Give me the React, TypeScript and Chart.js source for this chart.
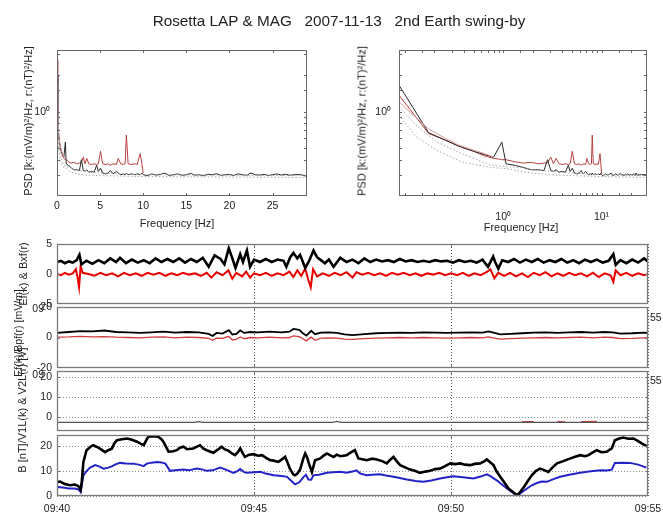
import React, { useEffect, useRef } from 'react';
import { Chart, registerables } from 'chart.js';
Chart.register(...registerables);

const W = 663;
const H = 514;
const CW = 720; // canvas is larger than the page; the extra part is hidden
const CH = 560;
const YAXW = 56;
const XAXH = 40;
const FONT = "'Liberation Sans', Arial, Helvetica, sans-serif";

// ---------- PSD data: [frequency Hz, PSD] ----------
const psdBlack: [number, number][] = [
  [0, 2.0], [0.087, 1.67], [0.175, 0.67], [0.26, 0.58], [0.35, 0.52], [0.5, 0.47], [0.65, 0.44], [0.8, 0.42],
  [0.9, 0.5], [0.97, 0.56], [1.07, 0.37], [1.3, 0.36], [1.6, 0.345], [1.94, 0.33], [2.3, 0.33], [2.6, 0.325],
  [2.83, 0.4], [3.05, 0.325], [3.25, 0.32], [3.45, 0.33], [3.7, 0.315], [4.0, 0.32], [4.3, 0.315], [4.6, 0.36],
  [4.8, 0.32], [5.05, 0.34], [5.3, 0.31], [5.6, 0.305], [5.9, 0.31], [6.2, 0.325], [6.5, 0.305], [6.9, 0.32],
  [7.1, 0.31], [7.4, 0.3], [7.7, 0.305], [7.9, 0.3], [8.05, 0.31], [8.25, 0.3], [8.6, 0.305], [9.0, 0.3],
  [9.3, 0.305], [9.65, 0.3], [9.85, 0.31], [10.0, 0.3], [10.5, 0.295], [11, 0.305], [11.5, 0.298], [12, 0.302],
  [12.5, 0.31], [13, 0.296], [13.5, 0.3], [14, 0.305], [14.5, 0.297], [15, 0.3], [15.5, 0.308], [16, 0.298],
  [16.5, 0.3], [17, 0.295], [17.5, 0.303], [18, 0.3], [18.5, 0.306], [19, 0.297], [19.5, 0.3], [20, 0.302],
  [20.5, 0.296], [21, 0.305], [21.5, 0.3], [22, 0.297], [22.5, 0.31], [23, 0.3], [23.5, 0.298], [24, 0.302],
  [24.5, 0.296], [25, 0.3], [25.5, 0.305], [26, 0.298], [26.5, 0.303], [27, 0.297], [27.5, 0.3], [28, 0.302],
  [28.5, 0.298], [29, 0.29],
];
const psdRed: [number, number][] = [
  [0, 2.7], [0.087, 1.38], [0.175, 0.66], [0.26, 0.58], [0.35, 0.52], [0.5, 0.47], [0.65, 0.43], [0.8, 0.41],
  [0.9, 0.405], [0.97, 0.4], [1.07, 0.4], [1.3, 0.385], [1.6, 0.375], [1.94, 0.38], [2.3, 0.37], [2.6, 0.375],
  [2.83, 0.38], [3.05, 0.42], [3.25, 0.37], [3.45, 0.41], [3.7, 0.37], [4.0, 0.365], [4.3, 0.37], [4.6, 0.365],
  [4.8, 0.37], [5.05, 0.47], [5.3, 0.37], [5.6, 0.365], [5.9, 0.37], [6.2, 0.36], [6.5, 0.37], [6.9, 0.365],
  [7.1, 0.41], [7.4, 0.37], [7.7, 0.365], [7.9, 0.37], [8.05, 0.64], [8.25, 0.37], [8.6, 0.365], [9.0, 0.37],
  [9.3, 0.365], [9.65, 0.45], [9.85, 0.37], [10.0, 0.31],
];
const psdRedPale: [number, number][] = [
  [0.087, 1.21], [0.175, 0.72], [0.26, 0.6], [0.35, 0.53], [0.5, 0.48], [0.65, 0.45], [0.8, 0.42],
];
const noiseA: [number, number][] = [
  [0.0874, 1.1], [0.13, 0.775], [0.21, 0.562], [0.38, 0.45], [0.75, 0.36], [1.1, 0.35], [1.5, 0.345],
  [2.0, 0.33], [3, 0.32], [5, 0.31], [10, 0.3], [29, 0.295],
];
const noiseB: [number, number][] = [
  [0.0874, 0.94], [0.13, 0.62], [0.21, 0.48], [0.38, 0.383], [0.75, 0.345], [1.1, 0.337], [1.5, 0.32],
  [2.0, 0.31], [3, 0.3], [5, 0.295], [10, 0.29], [29, 0.285],
];

// ---------- Time series: [minutes after 09:40, value] ----------
const timeTicks = ['09:40', '09:45', '09:50', '09:55'];
const vTicks = [0, 10, 20];

const eBlack: [number, number][] = [
  [0, 2.0], [0.1, 2.2], [0.2, 1.8], [0.3, 2.1], [0.4, 1.9], [0.5, 2.3], [0.57, 3.2], [0.62, 1.6], [0.75, 2.2],
  [0.9, 1.7], [1.05, 2.3], [1.2, 1.8], [1.35, 2.6], [1.5, 2.0], [1.6, 2.7], [1.75, 1.8], [1.9, 2.4], [2.05, 1.9],
  [2.2, 2.3], [2.35, 1.8], [2.5, 2.6], [2.65, 2.0], [2.8, 2.5], [2.95, 2.0], [3.1, 2.6], [3.25, 1.9], [3.4, 2.5],
  [3.55, 2.0], [3.7, 2.7], [3.85, 1.2], [4.0, 3.1], [4.15, 2.5], [4.25, 1.6], [4.36, 4.3], [4.45, 2.6], [4.53, 1.0],
  [4.65, 3.3], [4.72, 2.0], [4.82, 3.9], [4.9, 1.2], [5.0, 2.4], [5.15, 2.0], [5.3, 2.5], [5.45, 2.0], [5.6, 2.4],
  [5.75, 2.2], [5.82, 1.2], [5.92, 2.8], [6.0, 3.5], [6.1, 2.6], [6.17, 3.2], [6.3, 1.0], [6.4, 2.2], [6.51, 3.9],
  [6.6, 2.8], [6.68, 2.4], [6.8, 1.8], [6.9, 2.4], [7.02, 1.2], [7.19, 2.7], [7.35, 2.0], [7.5, 2.4], [7.65, 1.8],
  [7.8, 2.6], [7.95, 2.0], [8.1, 2.4], [8.25, 2.1], [8.4, 2.3], [8.55, 2.0], [8.7, 2.5], [8.85, 2.1], [9.0, 2.3],
  [9.15, 2.0], [9.3, 2.2], [9.45, 2.0], [9.6, 2.3], [9.75, 2.1], [9.9, 2.2], [10.05, 1.9], [10.2, 2.3], [10.35, 2.0],
  [10.5, 2.2], [10.65, 1.9], [10.8, 2.4], [10.94, 1.2], [11.07, 2.9], [11.12, 2.0], [11.2, 0.9], [11.3, 2.3],
  [11.45, 2.0], [11.6, 2.5], [11.75, 1.9], [11.9, 2.4], [12.05, 2.0], [12.2, 2.5], [12.35, 1.9], [12.5, 2.3],
  [12.65, 2.0], [12.8, 2.5], [12.95, 1.9], [13.1, 2.3], [13.25, 1.8], [13.4, 2.4], [13.55, 2.0], [13.7, 2.4],
  [13.85, 1.9], [14.0, 2.2], [14.12, 3.3], [14.18, 1.5], [14.3, 2.3], [14.45, 1.8], [14.6, 2.4], [14.75, 1.9],
  [14.9, 2.6], [15.0, 2.1],
];
const bxRed: [number, number][] = [
  [0, 0.0], [0.1, -0.2], [0.2, 0.2], [0.3, -0.1], [0.4, 0.1], [0.48, 0.8], [0.52, -0.5], [0.56, -2.2], [0.6, 1.3],
  [0.65, 0.2], [0.8, 0.0], [0.95, -0.3], [1.1, 0.2], [1.25, -0.2], [1.4, 0.1], [1.55, -0.4], [1.7, 0.2], [1.85, -0.2],
  [2.0, 0.1], [2.15, -0.3], [2.3, 0.2], [2.45, -0.1], [2.6, 0.2], [2.75, -0.3], [2.9, 0.1], [3.05, -0.2], [3.2, 0.2],
  [3.35, -0.1], [3.5, 0.1], [3.65, -0.3], [3.8, 0.2], [3.92, -0.6], [4.05, 0.3], [4.2, -0.2], [4.35, 0.6],
  [4.45, -0.8], [4.55, 0.2], [4.7, -0.4], [4.8, 0.4], [4.9, -0.6], [5.0, 0.1], [5.15, -0.2], [5.3, 0.2],
  [5.45, -0.3], [5.6, 0.1], [5.75, -0.2], [5.9, 0.4], [6.0, -0.5], [6.1, 0.6], [6.2, -0.3], [6.3, 0.9],
  [6.38, -1.0], [6.44, -2.2], [6.5, 0.8], [6.6, -0.4], [6.75, 0.1], [6.9, -0.3], [7.05, 0.2], [7.2, -0.2],
  [7.35, 0.3], [7.5, -0.6], [7.6, 0.3], [7.75, -0.1], [7.9, 0.2], [8.05, -0.2], [8.2, 0.1], [8.35, -0.3],
  [8.5, 0.2], [8.65, -0.1], [8.8, 0.2], [8.95, -0.2], [9.1, 0.1], [9.25, -0.3], [9.4, 0.1], [9.55, -0.1],
  [9.7, 0.2], [9.85, -0.2], [10.0, 0.1], [10.15, -0.2], [10.3, 0.2], [10.45, -0.3], [10.6, 0.1], [10.75, -0.2],
  [10.9, 0.3], [11.0, 0.8], [11.1, -0.7], [11.2, 0.2], [11.35, -0.3], [11.5, 0.2], [11.65, -0.4], [11.8, 0.1],
  [11.95, -0.5], [12.1, 0.2], [12.25, -0.2], [12.4, 0.3], [12.55, -0.4], [12.7, 0.1], [12.85, -0.3], [13.0, 0.2],
  [13.15, -0.2], [13.3, 0.1], [13.45, -0.4], [13.6, 0.2], [13.75, -0.5], [13.9, 0.1], [14.05, -0.2], [14.12, -1.3],
  [14.18, 0.6], [14.3, -0.2], [14.45, 0.2], [14.6, -0.3], [14.75, 0.1], [14.9, -0.2], [15.0, 0.0],
];
const ePBlack: [number, number][] = [
  [0, 3.0], [0.3, 3.6], [0.6, 4.2], [0.9, 4.0], [1.2, 4.6], [1.5, 3.6], [1.8, 3.4], [2.1, 3.0], [2.4, 3.4],
  [2.7, 3.9], [3.0, 3.2], [3.3, 3.6], [3.6, 3.4], [3.85, 2.4], [3.95, 1.0], [4.05, 3.0], [4.2, 2.6], [4.36, 4.8],
  [4.45, 2.0], [4.55, 2.4], [4.65, 4.6], [4.75, 3.0], [4.9, 3.6], [5.1, 3.4], [5.4, 3.8], [5.7, 3.4], [5.9, 3.8],
  [6.0, 5.6], [6.15, 5.0], [6.25, 2.6], [6.33, 1.2], [6.45, 4.4], [6.55, 2.2], [6.7, 3.2], [6.9, 3.4], [7.1, 3.0],
  [7.3, 2.0], [7.5, 1.6], [7.8, 2.2], [8.1, 2.8], [8.4, 3.0], [8.7, 3.2], [9.0, 3.0], [9.3, 3.4], [9.6, 3.2],
  [9.9, 3.0], [10.2, 3.2], [10.5, 3.4], [10.8, 3.2], [10.95, 4.0], [11.1, 3.0], [11.25, 2.0], [11.5, 2.4],
  [11.8, 2.8], [12.1, 3.2], [12.4, 3.4], [12.7, 3.0], [13.0, 3.4], [13.3, 3.6], [13.6, 3.2], [13.9, 3.6],
  [14.1, 3.4], [14.3, 2.6], [14.6, 2.8], [14.9, 3.2], [15, 3.0],
];
const ePRed: [number, number][] = [
  [0, 0.2], [0.3, 0.4], [0.6, 0.8], [0.9, 0.4], [1.2, 0.6], [1.5, 0.2], [1.8, 0.0], [2.1, -0.2], [2.4, 0.2],
  [2.7, 0.4], [3.0, -0.2], [3.3, 0.2], [3.6, 0.0], [3.85, -0.6], [3.95, -1.8], [4.05, -0.4], [4.2, -0.6], [4.36, 0.8],
  [4.45, -1.6], [4.55, -1.2], [4.65, 0.4], [4.75, -0.8], [4.9, 0.0], [5.1, -0.2], [5.4, 0.2], [5.7, -0.2], [5.9, 0.0],
  [6.0, 1.0], [6.15, 0.6], [6.25, -1.0], [6.33, -2.2], [6.45, 0.2], [6.55, -1.8], [6.7, -0.4], [6.9, -0.2],
  [7.1, -0.4], [7.3, -1.0], [7.5, -1.2], [7.8, -0.8], [8.1, -0.4], [8.4, -0.2], [8.7, 0.0], [9.0, -0.2], [9.3, 0.0],
  [9.6, -0.2], [9.9, -0.4], [10.2, -0.2], [10.5, 0.0], [10.8, -0.2], [10.95, 0.4], [11.1, -0.4], [11.25, -1.0],
  [11.5, -0.8], [11.8, -0.4], [12.1, -0.2], [12.4, 0.0], [12.7, -0.2], [13.0, 0.0], [13.3, 0.2], [13.6, -0.2],
  [13.9, 0.2], [14.1, 0.0], [14.3, -0.8], [14.6, -0.6], [14.9, -0.2], [15, -0.3],
];
const v1Black: [number, number][] = [
  [0, -2.7], [3.5, -2.7], [3.6, -2.3], [3.7, -2.7], [7.0, -2.7], [7.1, -2.2], [7.2, -2.7], [15, -2.7],
];
const v2Red: [number, number | null][] = [
  [11.8, -2.3], [12.1, -2.3], [12.11, null], [12.7, -2.2], [12.9, -2.4], [12.91, null], [13.3, -2.3], [13.7, -2.2],
];
const bBlack: [number, number][] = [
  [0, 5.6], [0.08, 5.8], [0.2, 4.8], [0.33, 4.3], [0.45, 4.6], [0.54, 4.0], [0.6, 2.5], [0.63, 6], [0.67, 13.7],
  [0.75, 18.4], [0.85, 19.8], [0.92, 20.4], [1.0, 19.8], [1.09, 19.0], [1.22, 17.6], [1.3, 18.4], [1.39, 19.0],
  [1.45, 21.0], [1.52, 22.4], [1.65, 22.8], [1.78, 23.1], [1.9, 22.6], [2.03, 21.8], [2.12, 21.0], [2.2, 20.4],
  [2.28, 22.8], [2.32, 23.8], [2.45, 24.0], [2.57, 23.8], [2.65, 22.8], [2.7, 21.8], [2.83, 17.8], [2.95, 18.0],
  [3.04, 18.4], [3.12, 19.4], [3.21, 19.8], [3.3, 18.8], [3.46, 19.1], [3.55, 19.8], [3.63, 20.4], [3.72, 19.0],
  [3.8, 18.4], [3.9, 17.8], [3.97, 17.4], [4.08, 18.6], [4.18, 19.8], [4.25, 18.8], [4.35, 18.2], [4.45, 17.0],
  [4.52, 16.4], [4.6, 17.8], [4.65, 19.1], [4.72, 17.0], [4.77, 15.7], [4.88, 16.6], [4.99, 16.8], [5.1, 16.2],
  [5.2, 16.4], [5.3, 15.4], [5.41, 14.4], [5.5, 14.2], [5.62, 13.7], [5.7, 14.6], [5.79, 15.7], [5.85, 13.5],
  [5.91, 11.0], [6.0, 8.6], [6.04, 8.3], [6.1, 9.0], [6.17, 10.6], [6.25, 15.0], [6.3, 17.1], [6.35, 15.5],
  [6.38, 13.7], [6.47, 9.6], [6.55, 14.4], [6.68, 15.1], [6.75, 16.0], [6.85, 17.1], [6.95, 16.2], [7.02, 15.7],
  [7.1, 16.6], [7.19, 16.0], [7.35, 16.4], [7.45, 17.4], [7.56, 18.4], [7.65, 15.1], [7.75, 14.8], [7.86, 14.4],
  [8.0, 15.0], [8.12, 14.7], [8.25, 14.0], [8.37, 13.1], [8.45, 14.5], [8.54, 15.7], [8.62, 14.0], [8.71, 12.4],
  [8.85, 11.4], [8.96, 10.6], [9.1, 10.0], [9.21, 9.3], [9.35, 9.8], [9.47, 10.1], [9.6, 10.8], [9.72, 11.0],
  [9.85, 12.0], [9.98, 13.1], [10.1, 12.8], [10.24, 13.1], [10.35, 12.6], [10.49, 12.4], [10.6, 12.9],
  [10.74, 13.1], [10.85, 14.0], [10.91, 14.7], [11.0, 13.5], [11.08, 12.4], [11.15, 10.0], [11.25, 7.7],
  [11.35, 5.5], [11.46, 3.0], [11.58, 1.5], [11.68, 0.3], [11.75, 1.5], [11.85, 3.6], [11.95, 6.0], [12.05, 8.3],
  [12.15, 10.0], [12.26, 11.0], [12.35, 10.5], [12.47, 9.7], [12.58, 11.5], [12.69, 13.1], [12.85, 14.0],
  [13.03, 15.1], [13.15, 15.8], [13.28, 16.4], [13.4, 16.0], [13.49, 16.4], [13.6, 17.5], [13.7, 18.4],
  [13.82, 17.6], [13.95, 17.8], [14.08, 19.1], [14.16, 22.4], [14.25, 23.0], [14.37, 23.5], [14.5, 23.0],
  [14.63, 23.1], [14.75, 22.0], [14.84, 21.1], [14.92, 20.4], [15.0, 19.8],
];
const bBlue: [number, number][] = [
  [0, 3.6], [0.15, 3.4], [0.3, 3.0], [0.45, 3.0], [0.55, 2.6], [0.6, 1.6], [0.63, 4.5], [0.67, 8.3], [0.75, 10.0],
  [0.84, 11.4], [0.97, 12.4], [1.08, 11.8], [1.18, 11.0], [1.3, 11.4], [1.39, 11.9], [1.5, 12.8], [1.6, 13.3],
  [1.75, 13.1], [1.94, 13.0], [2.1, 12.5], [2.2, 12.0], [2.28, 13.0], [2.4, 13.4], [2.54, 13.7], [2.65, 13.5],
  [2.75, 13.0], [2.87, 10.1], [3.0, 10.3], [3.21, 10.6], [3.35, 10.3], [3.55, 11.0], [3.7, 10.6], [3.8, 10.1],
  [3.95, 10.3], [4.14, 11.4], [4.3, 10.5], [4.48, 9.3], [4.58, 10.0], [4.65, 10.8], [4.75, 9.6], [4.82, 9.3],
  [5.0, 9.5], [5.16, 9.7], [5.3, 9.0], [5.5, 8.3], [5.7, 8.0], [5.84, 7.7], [5.95, 6.0], [6.04, 4.7], [6.15, 5.5],
  [6.26, 7.7], [6.32, 8.5], [6.38, 6.6], [6.45, 6.5], [6.51, 8.3], [6.65, 8.5], [6.85, 9.3], [7.0, 9.5],
  [7.19, 9.7], [7.35, 9.3], [7.5, 9.8], [7.6, 10.3], [7.7, 9.0], [7.86, 8.3], [8.0, 8.5], [8.2, 8.7], [8.35, 8.2],
  [8.54, 7.7], [8.7, 7.2], [8.88, 6.6], [9.1, 6.0], [9.3, 5.7], [9.5, 6.2], [9.72, 7.0], [9.9, 7.5], [10.06, 7.9],
  [10.3, 7.5], [10.57, 7.0], [10.75, 7.8], [10.91, 8.7], [11.0, 8.0], [11.16, 6.3], [11.3, 4.5], [11.42, 3.0],
  [11.55, 1.5], [11.68, 0.0], [11.8, 1.5], [11.93, 3.0], [12.05, 4.3], [12.18, 5.2], [12.3, 5.8], [12.43, 5.7],
  [12.6, 6.8], [12.77, 7.7], [13.0, 8.5], [13.28, 9.3], [13.5, 9.8], [13.79, 10.3], [13.95, 10.2], [14.08, 10.6],
  [14.16, 13.3], [14.35, 13.4], [14.54, 13.3], [14.75, 12.6], [14.96, 11.4],
];

// ---------- helpers ----------
const xy = (arr: [number, number | null][], positive = false) =>
  arr.filter(([x]) => !positive || x > 0).map(([x, y]) => ({ x, y }));

// layout padding such that the plot area lands exactly on [l, r] x [t, b]
const pad = (l: number, t: number, r: number, b: number) => ({
  left: l - YAXW, top: t, right: CW - r, bottom: CH - b - XAXH,
});

const isPow10 = (v: number) => v > 0 && Math.abs(Math.log10(v) - Math.round(Math.log10(v))) < 1e-6;
const SUP: Record<number, string> = { 0: '\u2070', 1: '\u00b9', 2: '\u00b2' };

const framePlugin = {
  id: 'frame',
  afterDraw(chart: any) {
    const { ctx, chartArea: a } = chart;
    const opts = chart.options.plugins.frame || {};
    ctx.save();
    ctx.strokeStyle = opts.color || '#666';
    ctx.lineWidth = 1;
    const tl = 3;
    const xs = chart.scales.x;
    const ys = chart.scales.y;
    ctx.beginPath();
    xs.ticks.forEach((t: any) => {
      const px = Math.round(xs.getPixelForValue(t.value)) + 0.5;
      if (px <= a.left + 1 || px >= a.right - 1) return;
      ctx.moveTo(px, a.bottom); ctx.lineTo(px, a.bottom - tl);
      ctx.moveTo(px, a.top); ctx.lineTo(px, a.top + tl);
    });
    ys.ticks.forEach((t: any) => {
      const py = Math.round(ys.getPixelForValue(t.value)) + 0.5;
      if (py <= a.top + 1 || py >= a.bottom - 1) return;
      ctx.moveTo(a.left, py); ctx.lineTo(a.left + tl, py);
      ctx.moveTo(a.right, py); ctx.lineTo(a.right - tl, py);
    });
    ctx.stroke();
    ctx.lineWidth = opts.width || 1;
    ctx.strokeRect(a.left + 0.5, a.top + 0.5, a.right - a.left - 1, a.bottom - a.top - 1);
    ctx.restore();
  },
};

const line = (data: any[], color: string, width: number, extra: any = {}) => ({
  data,
  borderColor: color,
  borderWidth: width,
  pointRadius: 0,
  tension: 0,
  fill: false,
  spanGaps: false,
  ...extra,
});

const tickFont = { family: FONT, size: 10.5 };
const fitY = (s: any) => { s.width = YAXW; };
const fitX = (s: any) => { s.height = XAXH; };

function baseOptions(padding: any, scales: any, frameColor = '#666', frameWidth = 1) {
  return {
    responsive: false,
    maintainAspectRatio: false,
    animation: false,
    events: [],
    layout: { padding },
    plugins: { legend: { display: false }, tooltip: { enabled: false }, frame: { color: frameColor, width: frameWidth } },
    scales,
  };
}

function psdConfig(logX: boolean, box: [number, number, number, number], xPad: number, yPad: number) {
  const datasets = [
    line(xy(noiseA, logX), '#a8a8a8', 1, { borderDash: [1.5, 2] }),
    line(xy(noiseB, logX), '#a8a8a8', 1, { borderDash: [1.5, 2] }),
    line(xy(psdRedPale, logX), '#d99a9a', 1),
    line(xy(psdBlack, logX), '#2a2a2a', 1),
    line(xy(psdRed, logX), '#b8413f', 1),
  ];
  const xScale = logX
    ? {
        type: 'logarithmic', min: 0.0874, max: 29,
        afterFit: fitX,
        grid: { display: false, drawTicks: false },
        border: { display: false },
        ticks: {
          autoSkip: false, maxRotation: 0, padding: xPad, font: tickFont, color: '#222',
          callback: (v: any) => (isPow10(Number(v)) && Number(v) >= 1 ? '10' + SUP[Math.round(Math.log10(Number(v)))] : ''),
        },
      }
    : {
        type: 'linear', min: 0, max: 29,
        afterFit: fitX,
        grid: { display: false, drawTicks: false },
        border: { display: false },
        ticks: { stepSize: 5, includeBounds: false, autoSkip: false, maxRotation: 0, padding: xPad, font: tickFont, color: '#222' },
      };
  return {
    type: 'line',
    data: { datasets },
    options: baseOptions(pad(...box), {
      x: xScale,
      y: {
        type: 'logarithmic', min: 0.2, max: 3.25,
        afterFit: fitY,
        grid: { display: false, drawTicks: false },
        border: { display: false },
        ticks: {
          autoSkip: false, padding: yPad, font: tickFont, color: '#222',
          callback: (v: any) => (Number(v) === 1 ? '10' + SUP[0] : ''),
        },
      },
    }),
    plugins: [framePlugin],
  };
}

function tsConfig(
  top: number, bottom: number, ymin: number, ymax: number, ystep: number,
  datasets: any[], showX: boolean, yGrid: boolean, fixedTicks?: number[],
) {
  const y: any = {
    type: 'linear', min: ymin, max: ymax,
    afterFit: fitY,
    grid: { display: yGrid, drawTicks: false, color: '#8a8a8a', lineWidth: 1 },
    border: { display: false, dash: [1, 2] },
    ticks: { stepSize: ystep, includeBounds: false, autoSkip: false, padding: 5, font: tickFont, color: '#222' },
  };
  if (fixedTicks) {
    y.afterBuildTicks = (s: any) => { s.ticks = fixedTicks.map((value) => ({ value })); };
  }
  return {
    type: 'line',
    data: { datasets },
    options: baseOptions(pad(57, top, 648, bottom), {
      x: {
        type: 'linear', min: 0, max: 15,
        afterFit: fitX,
        grid: { display: true, drawTicks: false, color: '#555', lineWidth: 1 },
        border: { display: false, dash: [1, 2] },
        ticks: {
          display: showX, stepSize: 5, includeBounds: false, autoSkip: false, maxRotation: 0, padding: 7,
          font: tickFont, color: '#222',
          callback: (v: any) => timeTicks[Math.round(Number(v) / 5)] ?? '',
        },
      },
      y,
    }, '#7a7a7a', 1.3),
    plugins: [framePlugin],
  };
}

const configs = [
  psdConfig(false, [57, 50, 307, 196], 3.5, 7),
  psdConfig(true, [399, 50, 647, 196], 15, 8),
  tsConfig(244, 304, -5, 5, 5, [
    line(xy(eBlack), '#000', 2.6),
    line(xy(bxRed), '#e80000', 2),
  ], false, false),
  tsConfig(307, 368, -20, 20, 20, [
    line(xy(ePBlack), '#000', 1.8),
    line(xy(ePRed), '#d03c3c', 1.3),
  ], false, false),
  tsConfig(371, 431, -7, 23, 10, [
    line(xy(v1Black), '#555', 1.2),
    line(xy(v2Red), '#d04040', 1.2),
  ], false, true, vTicks),
  tsConfig(435, 496, 0, 24.5, 10, [
    line(xy(bBlack), '#000', 2.6),
    line(xy(bBlue), '#2323c8', 2),
  ], true, true, vTicks),
];

const abs = (x: number, y: number, extra: any = {}): React.CSSProperties => ({
  position: 'absolute', left: x, top: y, whiteSpace: 'pre', lineHeight: 1, color: '#222', ...extra,
});
const rot = (x: number, y: number, size: number): React.CSSProperties =>
  abs(x, y, { fontSize: size, transform: 'translate(-50%, -50%) rotate(-90deg)' });

export default function App() {
  const canvases = useRef<(HTMLCanvasElement | null)[]>([]);
  useEffect(() => {
    const charts = configs.map((cfg, i) => new Chart(canvases.current[i] as HTMLCanvasElement, cfg as any));
    return () => charts.forEach((c) => c.destroy());
  }, []);
  return (
    <div style={{ position: 'fixed', left: 0, top: 0, width: W, height: H, background: '#fff', fontFamily: FONT, overflow: 'hidden' }}>
      {configs.map((_, i) => (
        <canvas
          key={i}
          ref={(el) => { canvases.current[i] = el; }}
          width={CW}
          height={CH}
          style={{ position: 'absolute', left: 0, top: 0, width: CW, height: CH }}
        />
      ))}
      <div style={abs(339, 21, { fontSize: 15.3, transform: 'translate(-50%, -50%)' })}>
        {'Rosetta LAP & MAG   2007-11-13   2nd Earth swing-by'}
      </div>
      <div style={rot(28, 121, 11)}>{'PSD [k:(mV/m)\u00b2/Hz, r:(nT)\u00b2/Hz]'}</div>
      <div style={rot(362, 121, 11)}>{'PSD [k:(mV/m)\u00b2/Hz, r:(nT)\u00b2/Hz]'}</div>
      <div style={abs(177, 223, { fontSize: 11, transform: 'translate(-50%, -50%)' })}>Frequency [Hz]</div>
      <div style={abs(521, 227, { fontSize: 11, transform: 'translate(-50%, -50%)' })}>Frequency [Hz]</div>
      <div style={rot(23, 274, 11)}>{'Ef(k) & Bxf(r)'}</div>
      <div style={rot(18, 333, 10.5)}>{'Ef(k)/Bpf(r) [mV/m]'}</div>
      <div style={rot(22, 410, 11)}>{'B [nT]/V1L(k) & V2L(r) [V]'}</div>
      <div style={abs(44, 308, { fontSize: 10.5, transform: 'translate(-100%, -50%)' })}>09</div>
      <div style={abs(44, 374, { fontSize: 10.5, transform: 'translate(-100%, -50%)' })}>09</div>
      <div style={abs(650, 317, { fontSize: 10.5, transform: 'translate(0, -50%)' })}>55</div>
      <div style={abs(650, 380, { fontSize: 10.5, transform: 'translate(0, -50%)' })}>55</div>
    </div>
  );
}
